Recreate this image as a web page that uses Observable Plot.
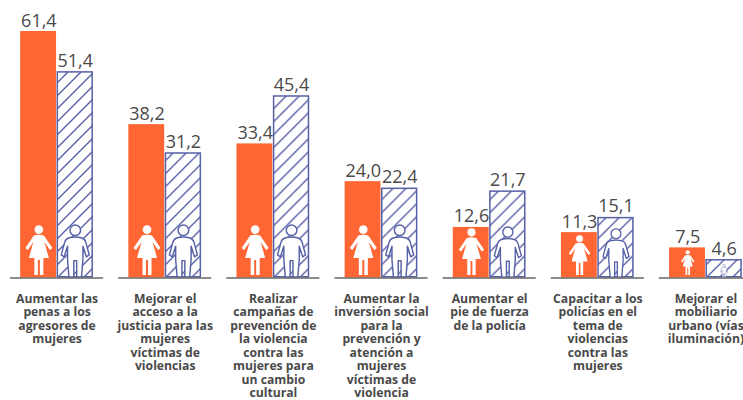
<!DOCTYPE html>
<html><head><meta charset="utf-8">
<script src="https://cdn.jsdelivr.net/npm/d3@7"></script>
<script src="https://cdn.jsdelivr.net/npm/@observablehq/plot@0.6"></script>
<style>html,body{margin:0;padding:0;background:#fff}svg{display:block}</style>
</head><body><div id="chart"></div>
<script>
const categories = [
 "Aumentar las\npenas a los\nagresores de\nmujeres",
 "Mejorar el\nacceso a la\njusticia para las\nmujeres\nvíctimas de\nviolencias",
 "Realizar\ncampañas de\nprevención de\nla violencia\ncontra las\nmujeres para\nun cambio\ncultural",
 "Aumentar la\ninversión social\npara la\nprevención y\natención a\nmujeres\nvíctimas de\nviolencia",
 "Aumentar el\npie de fuerza\nde la policía",
 "Capacitar a los\npolicías en el\ntema de\nviolencias\ncontra las\nmujeres",
 "Mejorar el\nmobiliario\nurbano (vías\niluminación)"
];
const genders = ["Mujeres","Hombres"];
const mujeres = [61.4,38.2,33.4,24.0,12.6,11.3,7.5];
const hombres = [51.4,31.2,45.4,22.4,21.7,15.1,4.6];
const iconMujeres = [50,50,50,50,47,40,25];
const iconHombres = [54,54,54,54,52,50,14];

const navy = "#5660a6", orange = "#ff6633", ink = "#4a4a4a";
const rows = categories.flatMap((c,i)=>[
 {c,g:genders[0],v:mujeres[i],icon:iconMujeres[i]},
 {c,g:genders[1],v:hombres[i],icon:iconHombres[i]}
]);
const pxPerUnit = (277.5-31)/61.4;

const womanSvg = `<svg xmlns="http://www.w3.org/2000/svg" viewBox="0 0 28 50" preserveAspectRatio="xMidYMax meet"><circle cx="14" cy="4.6" r="4.3" fill="#fff"/><path fill="#fff" d="M9 10.5Q14 9 19 10.5L27.5 23 25 25 19.5 17 24 33H18.5V50H15V35H13V50H9.5V33H4L8.5 17 3 25 .5 23Z"/></svg>`;
const manSvg = `<svg xmlns="http://www.w3.org/2000/svg" viewBox="0 0 32 56" preserveAspectRatio="xMidYMax meet"><g fill="#fff" stroke="${navy}" stroke-width="1.5" stroke-linejoin="round"><circle cx="16" cy="6.5" r="5.5"/><path d="M9 14.5Q16 12.5 23 14.5 26 15.5 27 19L30.5 32 27.5 34 24 23V37L22.5 55H17.5V38H14.5V55H9.5L8 37V23L4.5 34 1.5 32 5 19Q6 15.5 9 14.5Z"/></g></svg>`;
const uri = s => "data:image/svg+xml;charset=utf-8," + encodeURIComponent(s);

const chart = Plot.plot({
 width:743, height:400, marginTop:0, marginBottom:0, marginLeft:0, marginRight:0,
 style:{background:"#fff", fontFamily:"'Open Sans',sans-serif"},
 fx:{domain:categories, range:[10,752], padding:0.139, round:false, axis:null},
 x:{domain:genders, paddingInner:0, paddingOuter:0.28, round:false, axis:null},
 y:{domain:[0,61.4], range:[277.5,31], axis:null},
 marks:[
  () => { const ns="http://www.w3.org/2000/svg";
    const d=document.createElementNS(ns,"defs");
    d.innerHTML=`<pattern id="hatch" patternUnits="userSpaceOnUse" width="13" height="13"><rect width="13" height="13" fill="#fff"/><path d="M-3.25 3.25L3.25-3.25M0 13L13 0M9.75 16.25L16.25 9.75" stroke="${navy}" stroke-width="1.4"/></pattern>`;
    return d; },
  Plot.barY(rows,{filter:d=>d.g===genders[0],fx:"c",x:"g",y:"v",fill:orange,insetRight:0.5}),
  Plot.barY(rows,{filter:d=>d.g===genders[1],fx:"c",x:"g",y:"v",fill:"url(#hatch)",stroke:navy,strokeWidth:1.5,inset:0.75}),
  Plot.image(rows,{filter:d=>d.g===genders[0],fx:"c",x:"g",y:d=>d.icon/2/pxPerUnit,src:()=>uri(womanSvg),width:d=>d.icon*28/50,height:"icon",dy:-3}),
  Plot.image(rows,{filter:d=>d.g===genders[1],fx:"c",x:"g",y:d=>d.icon/2/pxPerUnit,src:()=>uri(manSvg),width:d=>d.icon*32/56,height:"icon"}),
  Plot.ruleY(categories,{fx:d=>d,y:()=>0,stroke:"#666",strokeWidth:1.5}),
  Plot.text(rows,{fx:"c",x:"g",y:"v",text:d=>d3.format(".1f")(d.v).replace(".",","),lineAnchor:"bottom",dy:-5,fontSize:18,fill:ink}),
  Plot.text(categories,{fx:d=>d,text:d=>d,frameAnchor:"top",lineAnchor:"top",dy:293,fontSize:12.2,fontWeight:700,lineHeight:1.1,fill:ink})
 ]
});
document.getElementById("chart").append(chart);
</script></body></html>
